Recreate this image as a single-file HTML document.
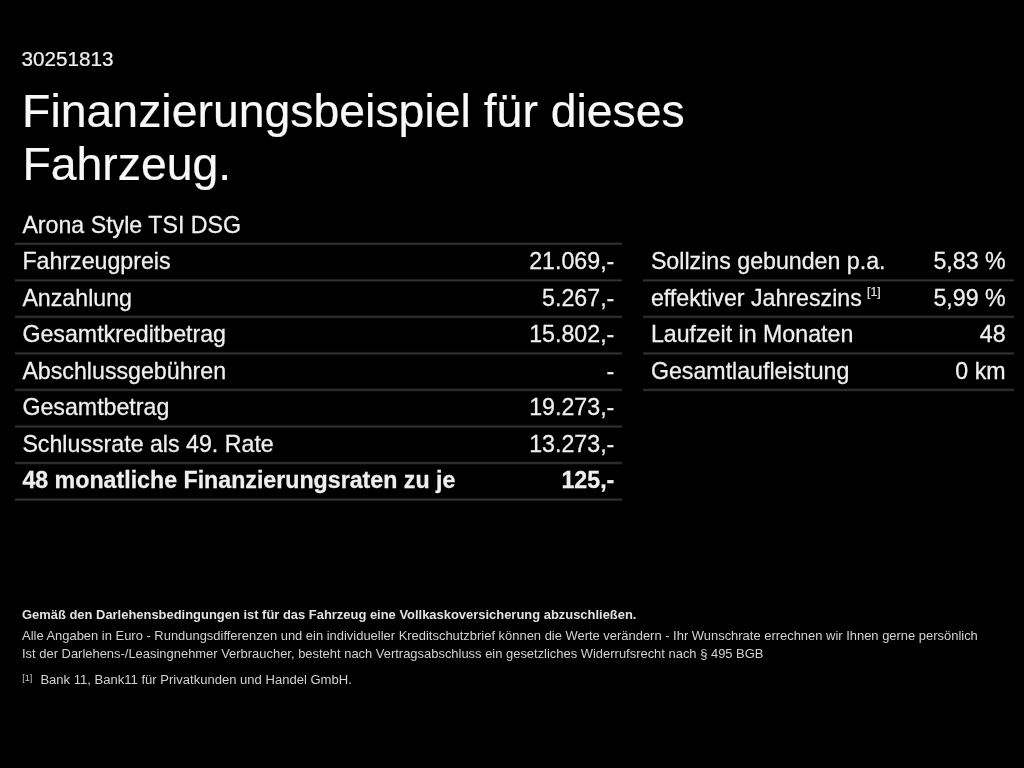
<!DOCTYPE html>
<html lang="de">
<head>
<meta charset="utf-8">
<title>Finanzierungsbeispiel für dieses Fahrzeug</title>
<style>
html,body{margin:0;padding:0;background:#000;}
body{width:1024px;height:768px;overflow:hidden;position:relative;color:#efefef;font-family:"Liberation Sans",Arial,Helvetica,sans-serif;}
.t{position:absolute;white-space:nowrap;line-height:1;margin:0;font-weight:400;-webkit-text-stroke:0.012em #efefef;filter:blur(0.6px);}
.b{font-weight:700;}
.ln{position:absolute;height:5px;}
.id{font-size:20.7px;}
h1.t{font-size:46.4px;color:#f8f8f8;-webkit-text-stroke:0.005em #f8f8f8;}
.r{font-size:23.2px;}
.f{font-size:12.94px;}
sup{font-size:12.4px;vertical-align:baseline;position:relative;top:-9.3px;margin-left:5.2px;line-height:0;}
.fn{font-size:9px;color:#c8c8c8;-webkit-text-stroke:0;}
.f{color:#d2d2d2;-webkit-text-stroke:0;filter:blur(0.6px);}
.f.b{color:#e2e2e2;}
sup{color:#e0e0e0;-webkit-text-stroke:0.02em #e0e0e0;}
</style>
</head>
<body>
<div class="t id" style="left:21.5px;top:48.68px;">30251813</div>
<h1 class="t " style="left:22.1px;top:87.92px;">Finanzierungsbeispiel für dieses</h1>
<h1 class="t " style="left:22.4px;top:141.02px;">Fahrzeug.</h1>
<div class="t r" style="left:22.4px;top:213.56px;">Arona Style TSI DSG</div>
<div class="ln" style="left:14.5px;width:607.7px;top:241px;background:linear-gradient(to bottom,#010101 0% 20%,#0f0f0f 20% 40%,#313131 40% 60%,#242424 60% 80%,#060606 80% 100%)"></div>
<div class="ln" style="left:14.5px;width:607.7px;top:278px;background:linear-gradient(to bottom,#040404 0% 20%,#1f1f1f 20% 40%,#333333 40% 60%,#131313 60% 80%,#020202 80% 100%)"></div>
<div class="ln" style="left:643.0px;width:370.5px;top:278px;background:linear-gradient(to bottom,#040404 0% 20%,#1f1f1f 20% 40%,#333333 40% 60%,#131313 60% 80%,#020202 80% 100%)"></div>
<div class="ln" style="left:14.5px;width:607.7px;top:314px;background:linear-gradient(to bottom,#010101 0% 20%,#0d0d0d 20% 40%,#2f2f2f 40% 60%,#272727 60% 80%,#070707 80% 100%)"></div>
<div class="ln" style="left:643.0px;width:370.5px;top:314px;background:linear-gradient(to bottom,#010101 0% 20%,#0d0d0d 20% 40%,#2f2f2f 40% 60%,#272727 60% 80%,#070707 80% 100%)"></div>
<div class="ln" style="left:14.5px;width:607.7px;top:351px;background:linear-gradient(to bottom,#030303 0% 20%,#1c1c1c 20% 40%,#343434 40% 60%,#161616 60% 80%,#020202 80% 100%)"></div>
<div class="ln" style="left:643.0px;width:370.5px;top:351px;background:linear-gradient(to bottom,#030303 0% 20%,#1c1c1c 20% 40%,#343434 40% 60%,#161616 60% 80%,#020202 80% 100%)"></div>
<div class="ln" style="left:14.5px;width:607.7px;top:387px;background:linear-gradient(to bottom,#010101 0% 20%,#0b0b0b 20% 40%,#2c2c2c 40% 60%,#2a2a2a 60% 80%,#090909 80% 100%)"></div>
<div class="ln" style="left:643.0px;width:370.5px;top:387px;background:linear-gradient(to bottom,#010101 0% 20%,#0b0b0b 20% 40%,#2c2c2c 40% 60%,#2a2a2a 60% 80%,#090909 80% 100%)"></div>
<div class="ln" style="left:14.5px;width:607.7px;top:424px;background:linear-gradient(to bottom,#030303 0% 20%,#191919 20% 40%,#343434 40% 60%,#191919 60% 80%,#030303 80% 100%)"></div>
<div class="ln" style="left:14.5px;width:607.7px;top:461px;background:linear-gradient(to bottom,#090909 0% 20%,#2a2a2a 20% 40%,#2c2c2c 40% 60%,#0b0b0b 60% 80%,#010101 80% 100%)"></div>
<div class="ln" style="left:14.5px;width:607.7px;top:497px;background:linear-gradient(to bottom,#020202 0% 20%,#161616 20% 40%,#343434 40% 60%,#1c1c1c 60% 80%,#030303 80% 100%)"></div>
<div class="t r" style="left:22.4px;top:249.96px;">Fahrzeugpreis</div>
<div class="t r" style="right:409.7px;top:249.96px;">21.069,-</div>
<div class="t r" style="left:22.4px;top:286.5px;">Anzahlung</div>
<div class="t r" style="right:409.7px;top:286.5px;">5.267,-</div>
<div class="t r" style="left:22.4px;top:323.04px;">Gesamtkreditbetrag</div>
<div class="t r" style="right:409.7px;top:323.04px;">15.802,-</div>
<div class="t r" style="left:22.4px;top:359.58px;">Abschlussgebühren</div>
<div class="t r" style="right:409.7px;top:359.58px;">-</div>
<div class="t r" style="left:22.4px;top:396.12px;">Gesamtbetrag</div>
<div class="t r" style="right:409.7px;top:396.12px;">19.273,-</div>
<div class="t r" style="left:22.4px;top:432.66px;">Schlussrate als 49. Rate</div>
<div class="t r" style="right:409.7px;top:432.66px;">13.273,-</div>
<div class="t r b" style="left:22.4px;top:469.2px;">48 monatliche Finanzierungsraten zu je</div>
<div class="t r b" style="right:409.7px;top:469.2px;">125,-</div>
<div class="t r" style="left:650.9px;top:249.96px;">Sollzins gebunden p.a.</div>
<div class="t r" style="right:18.4px;top:249.96px;">5,83 %</div>
<div class="t r" style="left:650.9px;top:286.5px;">effektiver Jahreszins<sup>[1]</sup></div>
<div class="t r" style="right:18.4px;top:286.5px;">5,99 %</div>
<div class="t r" style="left:650.9px;top:323.04px;">Laufzeit in Monaten</div>
<div class="t r" style="right:18.4px;top:323.04px;">48</div>
<div class="t r" style="left:650.9px;top:359.58px;">Gesamtlaufleistung</div>
<div class="t r" style="right:18.4px;top:359.58px;">0 km</div>
<div class="t f b" style="left:22px;top:608.95px;">Gemäß den Darlehensbedingungen ist für das Fahrzeug eine Vollkaskoversicherung abzuschließen.</div>
<div class="t f" style="left:22px;top:629.95px;">Alle Angaben in Euro - Rundungsdifferenzen und ein individueller Kreditschutzbrief können die Werte verändern - Ihr Wunschrate errechnen wir Ihnen gerne persönlich</div>
<div class="t f" style="left:22px;top:647.95px;">Ist der Darlehens-/Leasingnehmer Verbraucher, besteht nach Vertragsabschluss ein gesetzliches Widerrufsrecht nach § 495 BGB</div>
<div class="t fn" style="left:22.2px;top:673.78px;">[1]</div>
<div class="t f" style="left:40.4px;top:672.95px;font-size:13.05px;">Bank 11, Bank11 für Privatkunden und Handel GmbH.</div>
</body>
</html>
